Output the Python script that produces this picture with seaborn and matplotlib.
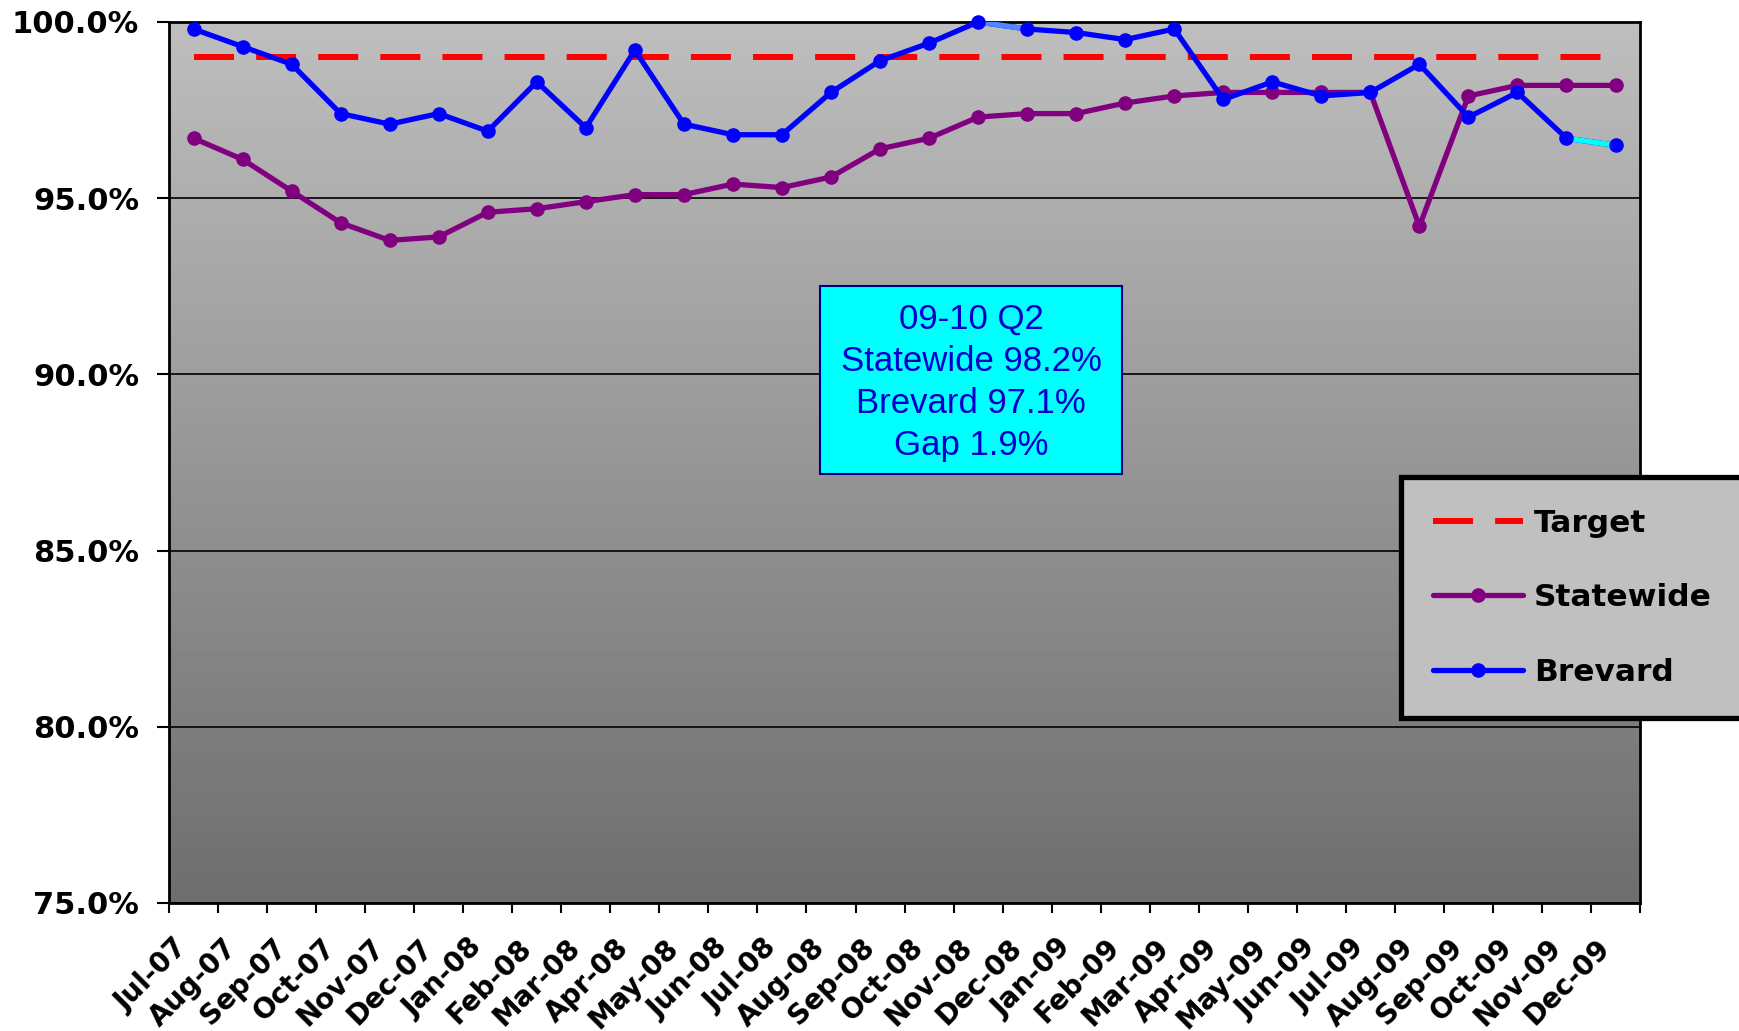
import numpy as np
import matplotlib
matplotlib.use("Agg")
import matplotlib.pyplot as plt
import seaborn as sns
from matplotlib.lines import Line2D
from matplotlib.patches import Rectangle

# Monthly categories
months = ['Jul-07', 'Aug-07', 'Sep-07', 'Oct-07', 'Nov-07', 'Dec-07',
          'Jan-08', 'Feb-08', 'Mar-08', 'Apr-08', 'May-08', 'Jun-08',
          'Jul-08', 'Aug-08', 'Sep-08', 'Oct-08', 'Nov-08', 'Dec-08',
          'Jan-09', 'Feb-09', 'Mar-09', 'Apr-09', 'May-09', 'Jun-09',
          'Jul-09', 'Aug-09', 'Sep-09', 'Oct-09', 'Nov-09', 'Dec-09']

# Series values (percent)
statewide = [96.7, 96.1, 95.2, 94.3, 93.8, 93.9, 94.6, 94.7, 94.9, 95.1,
             95.1, 95.4, 95.3, 95.6, 96.4, 96.7, 97.3, 97.4, 97.4, 97.7,
             97.9, 98.0, 98.0, 98.0, 98.0, 94.2, 97.9, 98.2, 98.2, 98.2]
brevard = [99.8, 99.3, 98.8, 97.4, 97.1, 97.4, 96.9, 98.3, 97.0, 99.2,
           97.1, 96.8, 96.8, 98.0, 98.9, 99.4, 100.0, 99.8, 99.7, 99.5,
           99.8, 97.8, 98.3, 97.9, 98.0, 98.8, 97.3, 98.0, 96.7, 96.5]
target = [99.0] * len(months)

y_ticks = [75, 80, 85, 90, 95, 100]
series_names = ['Target', 'Statewide', 'Brevard']
note_text = '09-10 Q2\nStatewide 98.2%\nBrevard 97.1%\nGap 1.9%'

sns.set_style('ticks')
plt.rcParams['font.family'] = ['Liberation Sans', 'DejaVu Sans']
plt.rcParams['text.color'] = 'black'
plt.rcParams['xtick.color'] = 'black'
plt.rcParams['ytick.color'] = 'black'

bold_font = {'family': 'DejaVu Sans', 'weight': 'bold'}

fig = plt.figure(figsize=(17.39, 10.31), dpi=100)
ax = fig.add_axes([0.0972, 0.1242, 0.8459, 0.8545])

# gray gradient plot area
grad = np.linspace(0.745, 0.43, 256).reshape(-1, 1)
ax.imshow(grad, cmap='gray', vmin=0, vmax=1, aspect='auto',
          extent=[0, 1, 0, 1], transform=ax.transAxes, zorder=0,
          interpolation='bilinear')

dash = (0, (6.7, 3.7))
common = dict(sort=False, errorbar=None, ax=ax, legend=False)

sns.lineplot(x=months, y=target, color='#FF0000', linewidth=4.3,
             linestyle=dash, zorder=2, **common)
sns.lineplot(x=months, y=statewide, color='#800080', linewidth=3.8,
             marker='o', markersize=10.5, markeredgewidth=0, zorder=3,
             clip_on=False, **common)
sns.lineplot(x=months, y=brevard, color='#0000FF', linewidth=3.8,
             zorder=4, **common)
# recoloured Brevard segments
sns.lineplot(x=months[16:18], y=brevard[16:18], color='#4D88FF',
             linewidth=3.8, zorder=4.1, **common)
sns.lineplot(x=months[28:30], y=brevard[28:30], color='#00FFFF',
             linewidth=3.8, zorder=4.1, **common)
sns.lineplot(x=months, y=brevard, color='#0000FF', linestyle='',
             marker='o', markersize=10.5, markeredgewidth=0, zorder=4.2,
             clip_on=False, **common)

ax.set_xlim(-0.5, len(months) - 0.5)
ax.set_ylim(75, 100)
ax.set_xlabel('')
ax.set_ylabel('')

# ticks at category edges, labels at category centres
ax.set_xticks(np.arange(-0.5, len(months)))
ax.tick_params(axis='x', which='major', length=7, width=1.5,
               direction='out', labelbottom=False)
ax.set_xticks(range(len(months)), labels=months, minor=True,
              rotation=45, ha='right', fontsize=20, **bold_font)
ax.tick_params(axis='x', which='minor', length=0, pad=22)

ax.set_yticks(y_ticks, labels=[f'{v:.1f}%' for v in y_ticks],
              fontsize=22, **bold_font)
ax.tick_params(axis='y', length=8.6, width=1.5, direction='out', pad=13)

ax.yaxis.grid(True, color='black', linewidth=1.2)
ax.xaxis.grid(False)
for s in ax.spines.values():
    s.set_visible(True)
    s.set_color('black')
    s.set_linewidth(2)

# annotation box
ax.add_patch(Rectangle((0.4426, 0.487), 0.2052, 0.2133, transform=ax.transAxes,
                       facecolor='#00FFFF', edgecolor='#000080', linewidth=1.5,
                       zorder=5))
ax.text(0.5452, 0.591, note_text, transform=ax.transAxes, ha='center',
        va='center', fontsize=25, color='#0000CC', linespacing=1.34, zorder=6)

handles = [
    Line2D([], [], color='#FF0000', lw=4.3, linestyle=dash),
    Line2D([], [], color='#800080', lw=3.8, marker='o', markersize=10.5,
           markeredgewidth=0),
    Line2D([], [], color='#0000FF', lw=3.8, marker='o', markersize=10.5,
           markeredgewidth=0),
]
leg = ax.legend(handles, series_names, loc='upper left',
                bbox_to_anchor=(0.8056, 0.5373), bbox_transform=fig.transFigure,
                borderaxespad=0, frameon=True, fancybox=False,
                facecolor='#C0C0C0', edgecolor='black', framealpha=1,
                prop={'family': 'DejaVu Sans', 'weight': 'bold', 'size': 22.5},
                handlelength=2.9, handletextpad=0.33, labelspacing=1.45,
                borderpad=1.02)
leg.get_frame().set_linewidth(3.8)
leg.set_zorder(10)

fig.savefig('out.png', dpi=100)
